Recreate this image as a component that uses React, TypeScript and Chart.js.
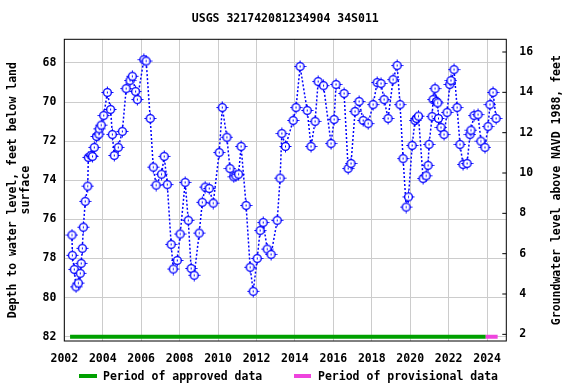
import React, { useEffect, useRef } from "react";
import { Chart, registerables } from "chart.js";

Chart.register(...registerables);

const TITLE = "USGS 321742081234904 34S011";
const LEFT_TITLE = ["Depth to water level, feet below land", "surface"];
const RIGHT_TITLE = "Groundwater level above NAVD 1988, feet";
const LEGEND_APPROVED = "Period of approved data";
const LEGEND_PROVISIONAL = "Period of provisional data";

const years = [
  2002.40, 2002.42, 2002.52, 2002.61, 2002.73, 2002.83, 2002.88, 2002.94, 2002.99, 2003.09,
  2003.22, 2003.25, 2003.39, 2003.47, 2003.56, 2003.68, 2003.80, 2003.82, 2003.92, 2004.05,
  2004.24, 2004.41, 2004.50, 2004.60, 2004.81, 2005.02, 2005.22, 2005.42, 2005.54, 2005.71,
  2005.80, 2006.14, 2006.26, 2006.47, 2006.63, 2006.78, 2007.06, 2007.20, 2007.36, 2007.56,
  2007.67, 2007.88, 2008.03, 2008.29, 2008.45, 2008.60, 2008.76, 2009.02, 2009.18, 2009.33,
  2009.54, 2009.75, 2010.06, 2010.22, 2010.46, 2010.62, 2010.82, 2010.93, 2011.07, 2011.20,
  2011.46, 2011.67, 2011.83, 2012.04, 2012.19, 2012.35, 2012.56, 2012.76, 2013.08, 2013.23,
  2013.32, 2013.51, 2013.91, 2014.06, 2014.27, 2014.64, 2014.84, 2015.05, 2015.21, 2015.49,
  2015.88, 2016.04, 2016.14, 2016.56, 2016.77, 2016.92, 2017.13, 2017.34, 2017.55, 2017.81,
  2018.07, 2018.28, 2018.48, 2018.64, 2018.85, 2019.11, 2019.32, 2019.47, 2019.63, 2019.79,
  2019.91, 2020.10, 2020.25, 2020.33, 2020.43, 2020.67, 2020.83, 2020.93, 2020.98, 2021.14,
  2021.19, 2021.29, 2021.37, 2021.43, 2021.47, 2021.60, 2021.76, 2021.92, 2022.06, 2022.12,
  2022.28, 2022.44, 2022.59, 2022.75, 2022.96, 2023.11, 2023.16, 2023.32, 2023.53, 2023.68,
  2023.89, 2024.05, 2024.15, 2024.31, 2024.47,
];

const depths = [
  76.80, 77.84, 78.56, 79.45, 79.26, 78.76, 78.25, 77.48, 76.40, 75.08,
  74.30, 72.83, 72.73, 72.78, 72.32, 71.76, 71.64, 71.37, 71.18, 70.69,
  69.51, 70.38, 71.66, 72.73, 72.32, 71.50, 69.31, 68.90, 68.68, 69.46,
  69.87, 67.83, 67.90, 70.84, 73.33, 74.25, 73.69, 72.78, 74.22, 77.28,
  78.54, 78.10, 76.75, 74.11, 76.05, 78.51, 78.86, 76.70, 75.13, 74.35,
  74.42, 75.17, 72.58, 70.28, 71.80, 73.40, 73.82, 73.77, 73.69, 72.27,
  75.29, 78.45, 79.68, 78.00, 76.57, 76.16, 77.52, 77.79, 76.05, 73.89,
  71.61, 72.27, 70.94, 70.28, 68.18, 70.43, 72.27, 70.99, 68.95, 69.16,
  72.12, 70.89, 69.10, 69.56, 73.40, 73.14, 70.48, 69.97, 70.94, 71.10,
  70.13, 69.00, 69.05, 69.87, 70.84, 68.85, 68.13, 70.13, 72.89, 75.37,
  74.85, 72.22, 70.94, 70.84, 70.72, 73.91, 73.77, 73.24, 72.17, 70.74,
  69.87, 69.31, 69.97, 70.04, 70.84, 71.30, 71.66, 70.53, 69.10, 68.90,
  68.34, 70.28, 72.17, 73.19, 73.14, 71.66, 71.44, 70.69, 70.64, 72.00,
  72.32, 71.25, 70.13, 69.51, 70.84,
];

const xTicks = [2002, 2004, 2006, 2008, 2010, 2012, 2014, 2016, 2018, 2020, 2022, 2024];
const leftTicks = [68, 70, 72, 74, 76, 78, 80, 82];
const rightTicks = [2, 4, 6, 8, 10, 12, 14, 16];
const approvedPeriod = [2002.3, 2023.93];
const provisionalPeriod = [2023.93, 2024.55];
const periodDepth = 82;

const FONT = "bold 11.5px 'DejaVu Sans Mono', monospace";
const BLUE = "#0000ff";
const GREEN = "#00a000";
const PINK = "#ee44dd";

function makeMarker(): HTMLCanvasElement {
  const c = document.createElement("canvas");
  c.width = 13;
  c.height = 13;
  const g = c.getContext("2d")!;
  g.fillStyle = "#ffffff";
  g.strokeStyle = BLUE;
  g.lineWidth = 1.4;
  g.beginPath();
  g.arc(6.5, 6.5, 3.9, 0, Math.PI * 2);
  g.fill();
  g.stroke();
  g.lineWidth = 1;
  g.beginPath();
  g.moveTo(6.5, 0.5); g.lineTo(6.5, 2);
  g.moveTo(6.5, 11); g.lineTo(6.5, 12.5);
  g.moveTo(0.5, 6.5); g.lineTo(2, 6.5);
  g.moveTo(11, 6.5); g.lineTo(12.5, 6.5);
  g.moveTo(6.5, 5.5); g.lineTo(6.5, 7.5);
  g.stroke();
  return c;
}

const decor = {
  id: "decor",
  beforeDraw(chart: any) {
    const ctx = chart.ctx;
    ctx.save();
    ctx.fillStyle = "#ffffff";
    ctx.fillRect(0, 0, chart.width, chart.height);
    ctx.restore();
  },
  afterDraw(chart: any) {
    const { ctx, chartArea: a, scales } = chart;
    ctx.save();
    ctx.strokeStyle = "#000000";
    ctx.lineWidth = 1;
    ctx.strokeRect(a.left, a.top, a.right - a.left, a.bottom - a.top);
    ctx.beginPath();
    for (const t of rightTicks) {
      const y = scales.y2.getPixelForValue(t);
      ctx.moveTo(a.right - 4, y);
      ctx.lineTo(a.right, y);
    }
    ctx.stroke();

    ctx.fillStyle = "#000000";
    ctx.font = FONT;
    ctx.textAlign = "center";
    ctx.textBaseline = "middle";
    const cx = (a.left + a.right) / 2;
    const cy = (a.top + a.bottom) / 2;
    ctx.fillText(TITLE, cx, 19.5);

    ctx.save();
    ctx.translate(13.5, cy);
    ctx.rotate(-Math.PI / 2);
    ctx.fillText(LEFT_TITLE[0], 0, 0);
    ctx.fillText(LEFT_TITLE[1], 0, 13);
    ctx.restore();

    ctx.save();
    ctx.translate(557, cy);
    ctx.rotate(-Math.PI / 2);
    ctx.fillText(RIGHT_TITLE, 0, 0);
    ctx.restore();

    const ly = 376;
    ctx.lineWidth = 4;
    ctx.strokeStyle = GREEN;
    ctx.beginPath();
    ctx.moveTo(79, ly);
    ctx.lineTo(97, ly);
    ctx.stroke();
    ctx.strokeStyle = PINK;
    ctx.beginPath();
    ctx.moveTo(294, ly);
    ctx.lineTo(311, ly);
    ctx.stroke();
    ctx.textAlign = "left";
    ctx.fillText(LEGEND_APPROVED, 103, ly + 1);
    ctx.fillText(LEGEND_PROVISIONAL, 318, ly + 1);
    ctx.restore();
  },
};

export default function App() {
  const ref = useRef<HTMLCanvasElement | null>(null);
  useEffect(() => {
    if (!ref.current) return;
    const marker = makeMarker();
    const tickFont = { family: "'DejaVu Sans Mono', monospace", size: 11.5, weight: "bold" as const };
    const chart = new Chart(ref.current, {
      type: "line",
      data: {
        datasets: [
          {
            label: "Depth",
            data: years.map((x, i) => ({ x, y: depths[i] })),
            borderColor: BLUE,
            borderWidth: 1.5,
            borderDash: [2, 2],
            pointStyle: marker as any,
            pointRadius: 5,
            backgroundColor: "#ffffff",
            yAxisID: "y",
            order: 0,
          },
          {
            label: "Approved",
            data: approvedPeriod.map((x) => ({ x, y: periodDepth })),
            borderColor: GREEN,
            borderWidth: 4,
            pointRadius: 0,
            yAxisID: "y",
            order: 2,
          },
          {
            label: "Provisional",
            data: provisionalPeriod.map((x) => ({ x, y: periodDepth })),
            borderColor: PINK,
            borderWidth: 4,
            pointRadius: 0,
            yAxisID: "y",
            order: 1,
          },
        ],
      },
      options: {
        animation: false,
        responsive: false,
        devicePixelRatio: 1,
        layout: { padding: { top: 39.3, left: 0, right: 0, bottom: 0 } },
        plugins: { legend: { display: false }, title: { display: false }, tooltip: { enabled: false } },
        scales: {
          x: {
            type: "linear",
            position: "bottom",
            min: 2002,
            max: 2025,
            afterBuildTicks: (s: any) => {
              s.ticks = xTicks.map((v) => ({ value: v }));
            },
            afterFit: (s: any) => {
              s.height = 43;
            },
            grid: { color: "#cccccc", lineWidth: 1, drawTicks: false },
            border: { display: false },
            ticks: {
              color: "#000000",
              font: tickFont,
              padding: 11,
              maxRotation: 0,
              autoSkip: false,
              callback: (v: any) => String(v),
            },
          },
          y: {
            type: "linear",
            position: "left",
            reverse: true,
            min: 66.79,
            max: 82.22,
            afterBuildTicks: (s: any) => {
              s.ticks = leftTicks.map((v) => ({ value: v }));
            },
            afterFit: (s: any) => {
              s.width = 64.3;
            },
            grid: { color: "#cccccc", lineWidth: 1, drawTicks: false },
            border: { display: false },
            ticks: { color: "#000000", font: tickFont, padding: 8, autoSkip: false },
          },
          y2: {
            type: "linear",
            position: "right",
            min: 1.67,
            max: 16.63,
            afterBuildTicks: (s: any) => {
              s.ticks = rightTicks.map((v) => ({ value: v }));
            },
            afterFit: (s: any) => {
              s.width = 69.7;
            },
            grid: { display: false, drawTicks: false },
            border: { display: false },
            ticks: { color: "#000000", font: tickFont, padding: 13, autoSkip: false },
          },
        },
      },
      plugins: [decor],
    });
    return () => chart.destroy();
  }, []);
  return (
    <div style={{ position: "fixed", left: 0, top: 0, width: 576, height: 384, background: "#fff" }}>
      <canvas ref={ref} width={576} height={384} style={{ display: "block", width: 576, height: 384 }} />
    </div>
  );
}
